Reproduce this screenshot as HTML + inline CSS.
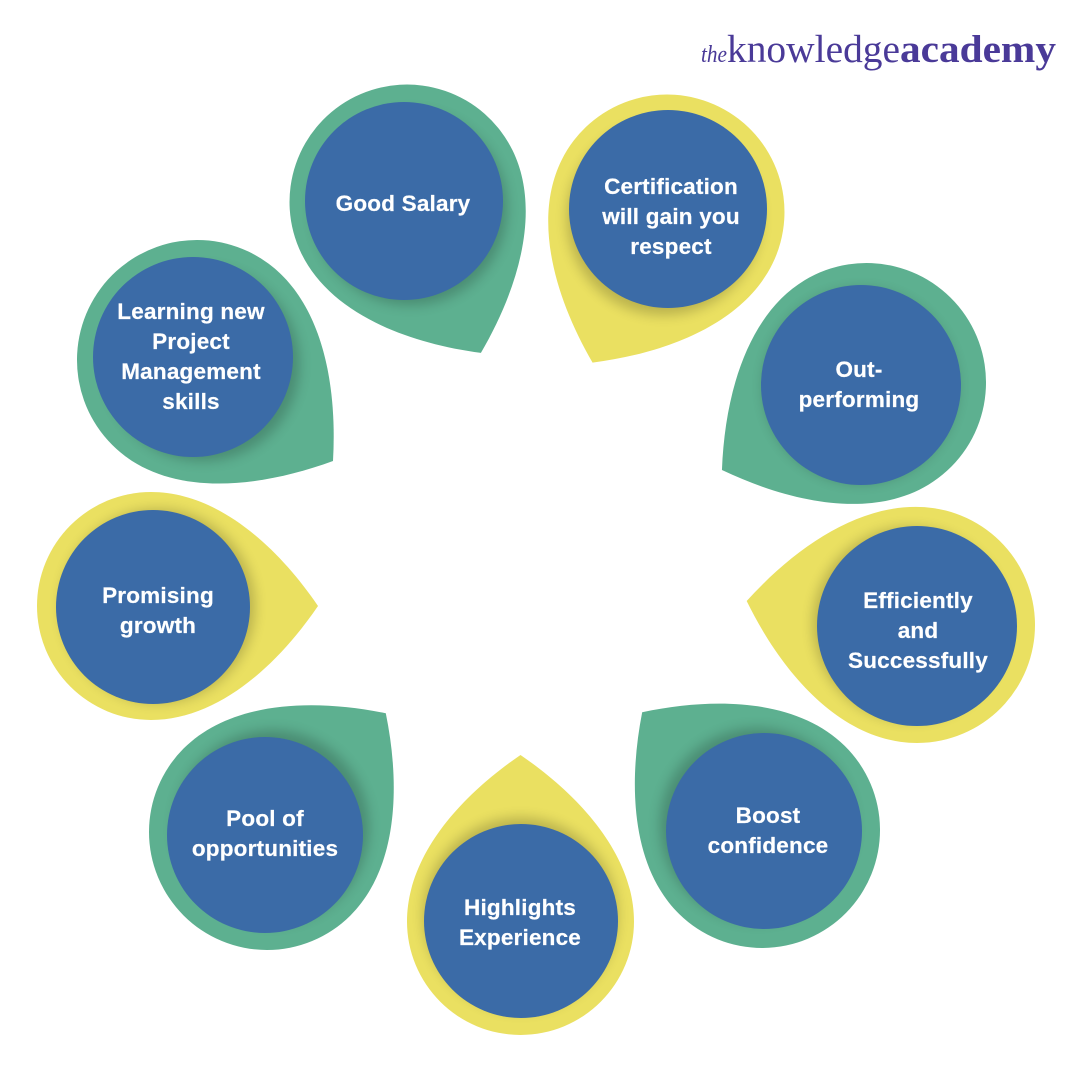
<!DOCTYPE html>
<html>
<head>
<meta charset="utf-8">
<style>
html,body{margin:0;padding:0;background:#fff}
svg{display:block}
.t{font-family:"Liberation Sans",sans-serif;font-weight:bold;font-size:22.5px;fill:#fff;text-anchor:middle;letter-spacing:.2px;stroke:#fff;stroke-width:.2px}
.l{font-family:"Liberation Serif",serif;fill:#4a3a98}
</style>
</head>
<body>
<svg width="1080" height="1080" viewBox="0 0 1080 1080" xmlns="http://www.w3.org/2000/svg">
<defs>
<filter id="b" x="-30%" y="-30%" width="160%" height="160%"><feGaussianBlur stdDeviation="6"/></filter>
<circle id="s" cx="7" cy="0" r="97" fill="#000" opacity=".2" filter="url(#b)"/>
</defs>

<g transform="translate(407,202) rotate(63.9)"><path fill="#5DB090" d="M168,0 C125,64.6 65,117.5 0,117.5 A117.5,117.5 0 0 1 0,-117.5 C65,-117.5 125,-64.6 168,0 Z"/><use href="#s"/></g>
<circle cx="404" cy="201" r="99" fill="#3B6BA7"/>
<text class="t" x="403" y="211">Good Salary</text>

<g transform="translate(667,212) rotate(116.3)"><path fill="#EAE061" d="M168,0 C125,64.6 65,117.5 0,117.5 A117.5,117.5 0 0 1 0,-117.5 C65,-117.5 125,-64.6 168,0 Z"/><use href="#s"/></g>
<circle cx="668" cy="209" r="99" fill="#3B6BA7"/>
<text class="t" x="671" y="194">Certification</text>
<text class="t" x="671" y="224">will gain you</text>
<text class="t" x="671" y="254">respect</text>

<g transform="translate(866.5,382.5) rotate(148.8)"><path fill="#5DB090" d="M169,0 C125.7,65.7 65.4,119.5 0,119.5 A119.5,119.5 0 0 1 0,-119.5 C65.4,-119.5 125.7,-65.7 169,0 Z"/><use href="#s"/></g>
<circle cx="861" cy="385" r="100" fill="#3B6BA7"/>
<text class="t" x="859" y="377">Out-</text>
<text class="t" x="859" y="407">performing</text>

<g transform="translate(917,625) rotate(188)"><path fill="#EAE061" d="M172,0 C128,64.9 66.6,118 0,118 A118,118 0 0 1 0,-118 C66.6,-118 128,-64.9 172,0 Z"/><use href="#s"/></g>
<circle cx="917" cy="626" r="100" fill="#3B6BA7"/>
<text class="t" x="918" y="608">Efficiently</text>
<text class="t" x="918" y="638">and</text>
<text class="t" x="918" y="668">Successfully</text>

<g transform="translate(762,830) rotate(224.5)"><path fill="#5DB090" d="M168,0 C125,65 65,118 0,118 A118,118 0 0 1 0,-118 C65,-118 125,-65 168,0 Z"/><use href="#s"/></g>
<circle cx="764" cy="831" r="98" fill="#3B6BA7"/>
<text class="t" x="768" y="823">Boost</text>
<text class="t" x="768" y="853">confidence</text>

<g transform="translate(520.5,921.5) rotate(270)"><path fill="#EAE061" d="M166.5,0 C123.9,62.4 64.4,113.5 0,113.5 A113.5,113.5 0 0 1 0,-113.5 C64.4,-113.5 123.9,-62.4 166.5,0 Z"/><use href="#s"/></g>
<circle cx="521" cy="921" r="97" fill="#3B6BA7"/>
<text class="t" x="520" y="915">Highlights</text>
<text class="t" x="520" y="945">Experience</text>

<g transform="translate(267,832) rotate(315)"><path fill="#5DB090" d="M168,0 C125,65 65,118 0,118 A118,118 0 0 1 0,-118 C65,-118 125,-65 168,0 Z"/><use href="#s"/></g>
<circle cx="265" cy="835" r="98" fill="#3B6BA7"/>
<text class="t" x="265" y="826">Pool of</text>
<text class="t" x="265" y="856">opportunities</text>

<g transform="translate(151,606)"><path fill="#EAE061" d="M167,0 C124.2,62.7 64.6,114 0,114 A114,114 0 0 1 0,-114 C64.6,-114 124.2,-62.7 167,0 Z"/><use href="#s"/></g>
<circle cx="153" cy="607" r="97" fill="#3B6BA7"/>
<text class="t" x="158" y="603">Promising</text>
<text class="t" x="158" y="633">growth</text>

<g transform="translate(197,360) rotate(36.6)"><path fill="#5DB090" d="M169.4,0 C126,66 65.6,120 0,120 A120,120 0 0 1 0,-120 C65.6,-120 126,-66 169.4,0 Z"/><use href="#s"/></g>
<circle cx="193" cy="357" r="100" fill="#3B6BA7"/>
<text class="t" x="191" y="319">Learning new</text>
<text class="t" x="191" y="349">Project</text>
<text class="t" x="191" y="379">Management</text>
<text class="t" x="191" y="409">skills</text>

<text class="l" x="701" y="62" font-size="24" font-style="italic" textLength="26" lengthAdjust="spacingAndGlyphs">the</text>
<text class="l" x="727" y="62" font-size="39" textLength="173" lengthAdjust="spacingAndGlyphs">knowledge</text>
<text class="l" x="900" y="62" font-size="39" font-weight="bold" textLength="156" lengthAdjust="spacingAndGlyphs">academy</text>
</svg>
</body>
</html>
